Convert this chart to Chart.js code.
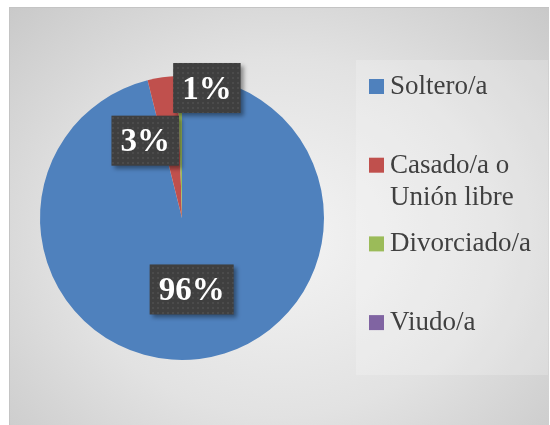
<!DOCTYPE html>
<html>
<head>
<meta charset="utf-8">
<script src="https://cdn.jsdelivr.net/npm/chart.js@4.4.0/dist/chart.umd.min.js"></script>
<style>
  body { margin: 0; background: #fff; }
  #frame {
    position: absolute; left: 9px; top: 7px; width: 540px; height: 418px;
    background: radial-gradient(ellipse at 50% 55%, #f4f4f4 0%, #e2e2e2 55%, #c9c9c9 100%);
    border-top: 1px solid #c4c4c4; border-left: 1px solid #c4c4c4;
    box-sizing: border-box;
  }
  #wrap { position: absolute; left: 0; top: 0; width: 550px; height: 425px; }
</style>
</head>
<body>
<div id="frame"></div>
<div id="wrap"><canvas id="estadoCivil" width="550" height="425"></canvas></div>
<script>
// Estado civil (porcentaje)
const categories = ['Soltero/a', 'Casado/a o Unión libre', 'Divorciado/a', 'Viudo/a'];
const values = [96.1, 3.4, 0.5, 0];
const colors = ['#4f81bd', '#c0504d', '#9bbb59', '#8064a2'];

// dotted dark pattern for the data label boxes
function makePattern(ctx) {
    const tile = document.createElement('canvas');
    tile.width = 5; tile.height = 5;
    const t = tile.getContext('2d');
    t.fillStyle = '#3f3f3f';
    t.fillRect(0, 0, 5, 5);
    t.fillStyle = '#4b4b4b';
    t.fillRect(2, 2, 2, 2);
    return ctx.createPattern(tile, 'repeat');
}

// boxed percentage labels
const boxLabels = {
    id: 'boxLabels',
    afterDatasetsDraw(chart, args, opts) {
        const ctx = chart.ctx;
        const meta = chart.getDatasetMeta(0);
        const total = values.reduce((a, b) => a + b, 0);
        const pattern = makePattern(ctx);
        ctx.save();
        ctx.font = 'bold 33px "Liberation Serif", serif';
        ctx.textAlign = 'center';
        ctx.textBaseline = 'middle';
        meta.data.forEach((arc, i) => {
            if (!values[i]) return;
            const pos = arc.tooltipPosition();
            const off = opts.offsets[i] || [0, 0];
            const x = pos.x + off[0], y = pos.y + off[1];
            const text = Math.round(values[i] / total * 100) + '%';
            const w = ctx.measureText(text).width + 18;
            const h = 50;
            ctx.shadowColor = 'rgba(0,0,0,0.4)';
            ctx.shadowOffsetX = 3;
            ctx.shadowOffsetY = 3;
            ctx.shadowBlur = 4;
            ctx.fillStyle = pattern;
            ctx.fillRect(x - w / 2, y - h / 2, w, h);
            ctx.shadowColor = 'transparent';
            ctx.fillStyle = '#ffffff';
            ctx.fillText(text, x, y + 2);
        });
        ctx.restore();
    }
};

// legend box on the right, with wrapped labels
const sideLegend = {
    id: 'sideLegend',
    afterDraw(chart, args, opts) {
        const ctx = chart.ctx;
        ctx.save();
        ctx.fillStyle = 'rgba(255,255,255,0.2)';
        ctx.fillRect(356, 60, 192, 315);
        ctx.font = '27px "Liberation Serif", serif';
        ctx.textBaseline = 'middle';
        categories.forEach((label, i) => {
            const y = 86 + i * 78.7;
            ctx.fillStyle = colors[i];
            ctx.fillRect(369, y - 7, 15, 15);
            // wrap words
            const words = label.split(' ');
            const lines = [];
            let line = '';
            words.forEach(wd => {
                const test = line ? line + ' ' + wd : wd;
                if (ctx.measureText(test).width > 155 && line) {
                    lines.push(line);
                    line = wd;
                } else {
                    line = test;
                }
            });
            lines.push(line);
            ctx.fillStyle = '#404040';
            lines.forEach((l, j) => ctx.fillText(l, 390, y + 1 + j * 32));
        });
        ctx.restore();
    }
};

const ctx = document.getElementById('estadoCivil').getContext('2d');
new Chart(ctx, {
    type: 'pie',
    data: {
        labels: categories,
        datasets: [{
            data: values,
            backgroundColor: colors,
            borderWidth: 0
        }]
    },
    options: {
        responsive: false,
        animation: false,
        layout: { padding: { left: 40, right: 226, top: 76, bottom: 65 } },
        plugins: {
            legend: { display: false },
            tooltip: { enabled: false },
            boxLabels: { offsets: [[1, 1], [-27, -7], [26, -59], [0, 0]] }
        }
    },
    plugins: [boxLabels, sideLegend]
});
</script>
</body>
</html>
